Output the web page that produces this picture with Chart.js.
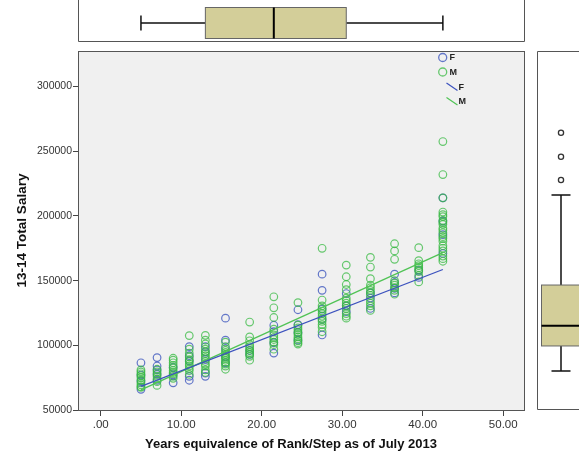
<!DOCTYPE html>
<html>
<head>
<meta charset="utf-8">
<title>13-14 Total Salary by Years equivalence</title>
<script src="https://cdn.jsdelivr.net/npm/chart.js@4.4.1/dist/chart.umd.min.js"></script>
<style>
  html, body { margin: 0; padding: 0; background: #fff; }
  #wrap { width: 579px; height: 456px; }
</style>
</head>
<body>
<div id="wrap"><canvas id="salaryChart" width="579" height="456"></canvas></div>
<script>
// years equivalence of rank/step, one column of points per value
const rankYears = [5, 7, 9, 11, 13, 15.5, 18.5, 21.5, 24.5, 27.5, 30.5, 33.5, 36.5, 39.5, 42.5];

// 13-14 total salary, women, per column of rankYears
const salaryF = [
    [86500, 77000, 72500, 66000],
    [90500, 84000, 81000, 77500, 73000],
    [83000, 77000, 71000],
    [99000, 92000, 88000, 76000, 73000],
    [99000, 95000, 89000, 78500, 76000],
    [121000, 104000, 97500, 91000, 86500],
    [96000, 93000],
    [115500, 110500, 102000, 94000],
    [127500, 116000, 110000, 104000],
    [155000, 142500, 128000, 120000, 108000],
    [140000, 130500, 126000],
    [140500, 136500, 128500],
    [155000, 148500, 144000, 140500],
    [158000, 152500],
    [214000, 196000, 185500, 171000]
];

// 13-14 total salary, men, per column of rankYears
const salaryM = [
    [81000, 79500, 78000, 76500, 75000, 73000, 71000, 69500, 68000, 67500],
    [81500, 79500, 78000, 76000, 74000, 72000, 69000],
    [90000, 88500, 86500, 84500, 82500, 80500, 79000, 78000, 76000, 74500],
    [107500, 97000, 94000, 91000, 89000, 87500, 85500, 84000, 82000, 80500, 77500],
    [107700, 104000, 101000, 97000, 95000, 93500, 92000, 90500, 87500, 85500, 84000, 81000, 79000],
    [102500, 99000, 96000, 94500, 93000, 91500, 90000, 88500, 87000, 85500, 84000, 81500],
    [118000, 106500, 103500, 100500, 99000, 97500, 96000, 94500, 93000, 91500, 88500],
    [137500, 129000, 121500, 112500, 108000, 106000, 104500, 102500, 100500, 97000],
    [133000, 115500, 113500, 112000, 110000, 108500, 106500, 105000, 103500, 102000, 101000],
    [175000, 135000, 130500, 128500, 126500, 124500, 122500, 120500, 118500, 116000, 114000, 110500],
    [162000, 153000, 147000, 143000, 136500, 134500, 132500, 130500, 128500, 124500, 122500, 121000],
    [168000, 160500, 151500, 146500, 144500, 142500, 140500, 138500, 134500, 132500, 130500, 127000],
    [178500, 173000, 166500, 150000, 148000, 146500, 144500, 142500, 139500],
    [175500, 165500, 163000, 161500, 160000, 158500, 157000, 154000, 149000],
    [257500, 232000, 214000, 203000, 201000, 199500, 196500, 195000, 193500, 190500, 189000, 187000,
     184000, 182500, 180500, 177000, 175000, 173000, 169000, 167000, 165000]
];

// linear fit lines, ends at the first and last column
const fitX = [5, 42.5];
const fitF = [68200, 158600];
const fitM = [65500, 171600];

// marginal box plots: [low whisker, Q1, median, Q3, high whisker]
const yearsBox = [5, 13, 21.5, 30.5, 42.5];
const salaryBox = [80150, 99500, 115200, 146600, 216200];
const salaryOutliers = [227800, 245800, 264300];

const xTicks = [0, 10, 20, 30, 40, 50];
const yTicks = [50000, 100000, 150000, 200000, 250000, 300000];
const xTitle = 'Years equivalence of Rank/Step as of July 2013';

const blue = 'rgba(62, 88, 190, 0.8)';
const green = 'rgba(55, 185, 65, 0.75)';
const blueLine = 'rgb(60, 82, 190)';
const greenLine = 'rgb(80, 195, 85)';
const boxFill = '#D3CE99';
const fontFamily = "Arial, 'Liberation Sans', sans-serif";

function toPoints(cols) {
    return cols.flatMap((vals, i) => vals.map(v => ({ x: rankYears[i], y: v })));
}

function fitPoints(ys) {
    return fitX.map((x, i) => ({ x: x, y: ys[i] }));
}

// grey plot background and dark frame around the chart area, x title
const plotFrame = {
    id: 'plotFrame',
    beforeDatasetsDraw(chart) {
        const { ctx, chartArea: a } = chart;
        ctx.save();
        ctx.fillStyle = '#F0F0F0';
        ctx.fillRect(a.left, a.top, a.right - a.left, a.bottom - a.top);
        ctx.restore();
    },
    afterDraw(chart) {
        const { ctx, chartArea: a } = chart;
        ctx.save();
        ctx.strokeStyle = '#555';
        ctx.lineWidth = 1;
        ctx.strokeRect(Math.round(a.left) + 0.5, Math.round(a.top) + 0.5,
            Math.round(a.right - a.left) - 1, Math.round(a.bottom - a.top));
        ctx.font = 'bold 13px ' + fontFamily;
        ctx.fillStyle = '#111';
        ctx.textAlign = 'center';
        ctx.textBaseline = 'middle';
        ctx.fillText(xTitle, 291, 444);
        ctx.restore();
    }
};

// box plots along the top (years) and right side (salary)
const marginalBoxes = {
    id: 'marginalBoxes',
    afterDraw(chart) {
        const { ctx, chartArea: a, scales } = chart;
        const xs = scales.x, ys = scales.y;
        ctx.save();
        ctx.lineWidth = 1;

        // top frame
        ctx.strokeStyle = '#555';
        ctx.beginPath();
        ctx.moveTo(a.left + 0.5, 0);
        ctx.lineTo(a.left + 0.5, 41.5);
        ctx.lineTo(a.right - 0.5, 41.5);
        ctx.lineTo(a.right - 0.5, 0);
        ctx.stroke();

        // top box plot
        const [xlo, xq1, xmed, xq3, xhi] = yearsBox.map(v => xs.getPixelForValue(v));
        const cy = 23, half = 15.5;
        ctx.strokeStyle = '#111';
        ctx.lineWidth = 1.5;
        ctx.beginPath();
        ctx.moveTo(xlo, cy); ctx.lineTo(xq1, cy);
        ctx.moveTo(xq3, cy); ctx.lineTo(xhi, cy);
        ctx.moveTo(xlo, cy - 7.5); ctx.lineTo(xlo, cy + 7.5);
        ctx.moveTo(xhi, cy - 7.5); ctx.lineTo(xhi, cy + 7.5);
        ctx.stroke();
        ctx.fillStyle = boxFill;
        ctx.fillRect(xq1, cy - half, xq3 - xq1, half * 2);
        ctx.strokeStyle = '#666';
        ctx.lineWidth = 1;
        ctx.strokeRect(xq1, cy - half, xq3 - xq1, half * 2);
        ctx.strokeStyle = '#000';
        ctx.lineWidth = 2;
        ctx.beginPath();
        ctx.moveTo(xmed, cy - half); ctx.lineTo(xmed, cy + half);
        ctx.stroke();

        // right frame
        const fx = 537.5;
        ctx.strokeStyle = '#555';
        ctx.lineWidth = 1;
        ctx.beginPath();
        ctx.moveTo(chart.width + 2, a.top + 0.5);
        ctx.lineTo(fx, a.top + 0.5);
        ctx.lineTo(fx, a.bottom - 0.5);
        ctx.lineTo(chart.width + 2, a.bottom - 0.5);
        ctx.stroke();

        // right box plot
        const [ylo, yq1, ymed, yq3, yhi] = salaryBox.map(v => ys.getPixelForValue(v));
        const cx = 561, bw = 19.5;
        ctx.strokeStyle = '#111';
        ctx.lineWidth = 1.5;
        ctx.beginPath();
        ctx.moveTo(cx, ylo); ctx.lineTo(cx, yq1);
        ctx.moveTo(cx, yq3); ctx.lineTo(cx, yhi);
        ctx.moveTo(cx - 9.5, ylo); ctx.lineTo(cx + 9.5, ylo);
        ctx.moveTo(cx - 9.5, yhi); ctx.lineTo(cx + 9.5, yhi);
        ctx.stroke();
        ctx.fillStyle = boxFill;
        ctx.fillRect(cx - bw, yq3, bw * 2, yq1 - yq3);
        ctx.strokeStyle = '#666';
        ctx.lineWidth = 1;
        ctx.strokeRect(cx - bw, yq3, bw * 2, yq1 - yq3);
        ctx.strokeStyle = '#000';
        ctx.lineWidth = 2;
        ctx.beginPath();
        ctx.moveTo(cx - bw, ymed); ctx.lineTo(cx + bw, ymed);
        ctx.stroke();

        ctx.lineWidth = 1.3;
        ctx.strokeStyle = '#333';
        ctx.fillStyle = '#fff';
        salaryOutliers.forEach(v => {
            ctx.beginPath();
            ctx.arc(cx, ys.getPixelForValue(v), 2.6, 0, Math.PI * 2);
            ctx.fill();
            ctx.stroke();
        });
        ctx.restore();
    }
};

// legend in the upper right corner of the plot
const cornerLegend = {
    id: 'cornerLegend',
    afterDraw(chart) {
        const { ctx } = chart;
        const sets = chart.data.datasets;
        ctx.save();
        ctx.font = 'bold 9px ' + fontFamily;
        ctx.textBaseline = 'middle';
        ctx.fillStyle = '#222';
        const markers = sets.filter(d => d.type === 'scatter');
        markers.forEach((d, i) => {
            const y = 57.5 + i * 14.5;
            ctx.strokeStyle = d.borderColor;
            ctx.lineWidth = 1.3;
            ctx.beginPath();
            ctx.arc(442.7, y, 4, 0, Math.PI * 2);
            ctx.stroke();
            ctx.fillText(d.label, 449.5, y + 0.5);
        });
        const lines = sets.filter(d => d.type === 'line');
        lines.forEach((d, i) => {
            const y = 87 + i * 14.5;
            ctx.strokeStyle = d.borderColor;
            ctx.lineWidth = 1.2;
            ctx.beginPath();
            ctx.moveTo(446.5, y - 4);
            ctx.lineTo(457.5, y + 3.5);
            ctx.stroke();
            ctx.fillText(d.label, 458.5, y + 0.5);
        });
        ctx.restore();
    }
};

const ctx = document.getElementById('salaryChart').getContext('2d');
const salaryChart = new Chart(ctx, {
    type: 'scatter',
    data: {
        datasets: [
            {
                type: 'line',
                label: 'F',
                data: fitPoints(fitF),
                borderColor: blueLine,
                borderWidth: 1.3,
                pointRadius: 0,
                fill: false,
                order: 0
            },
            {
                type: 'line',
                label: 'M',
                data: fitPoints(fitM),
                borderColor: greenLine,
                borderWidth: 1.3,
                pointRadius: 0,
                fill: false,
                order: 0
            },
            {
                type: 'scatter',
                label: 'F',
                data: toPoints(salaryF),
                borderColor: blue,
                backgroundColor: 'rgba(0,0,0,0)',
                pointRadius: 3.8,
                borderWidth: 1.2,
                order: 2
            },
            {
                type: 'scatter',
                label: 'M',
                data: toPoints(salaryM),
                borderColor: green,
                backgroundColor: 'rgba(0,0,0,0)',
                pointRadius: 3.8,
                borderWidth: 1.2,
                order: 1
            }
        ]
    },
    options: {
        responsive: false,
        animation: false,
        events: [],
        layout: {
            padding: { top: 51, right: 54, left: 0, bottom: 0 }
        },
        plugins: {
            legend: { display: false },
            tooltip: { enabled: false }
        },
        scales: {
            x: {
                type: 'linear',
                min: -2.82,
                max: 52.7,
                afterFit(scale) { scale.height = 46; },
                afterBuildTicks(scale) { scale.ticks = xTicks.map(v => ({ value: v })); },
                border: { display: false },
                grid: {
                    drawOnChartArea: false,
                    drawTicks: true,
                    tickLength: 6,
                    tickColor: '#444'
                },
                ticks: {
                    padding: 2,
                    color: '#333',
                    font: { family: fontFamily, size: 11.5 },
                    callback: v => v === 0 ? '.00' : v.toFixed(2)
                },
                title: { display: false }
            },
            y: {
                type: 'linear',
                min: 50000,
                max: 327500,
                afterFit(scale) { scale.width = 78; },
                afterBuildTicks(scale) { scale.ticks = yTicks.map(v => ({ value: v })); },
                border: { display: false },
                grid: {
                    drawOnChartArea: false,
                    drawTicks: true,
                    tickLength: 5,
                    tickColor: '#444'
                },
                ticks: {
                    padding: 1,
                    color: '#333',
                    font: { family: fontFamily, size: 10.5 },
                    callback: v => String(v)
                },
                title: {
                    display: true,
                    text: '13-14 Total Salary',
                    color: '#111',
                    font: { family: fontFamily, size: 13.5, weight: 'bold' },
                    padding: { top: 14, bottom: 0 }
                }
            }
        }
    },
    plugins: [plotFrame, marginalBoxes, cornerLegend]
});
</script>
</body>
</html>
